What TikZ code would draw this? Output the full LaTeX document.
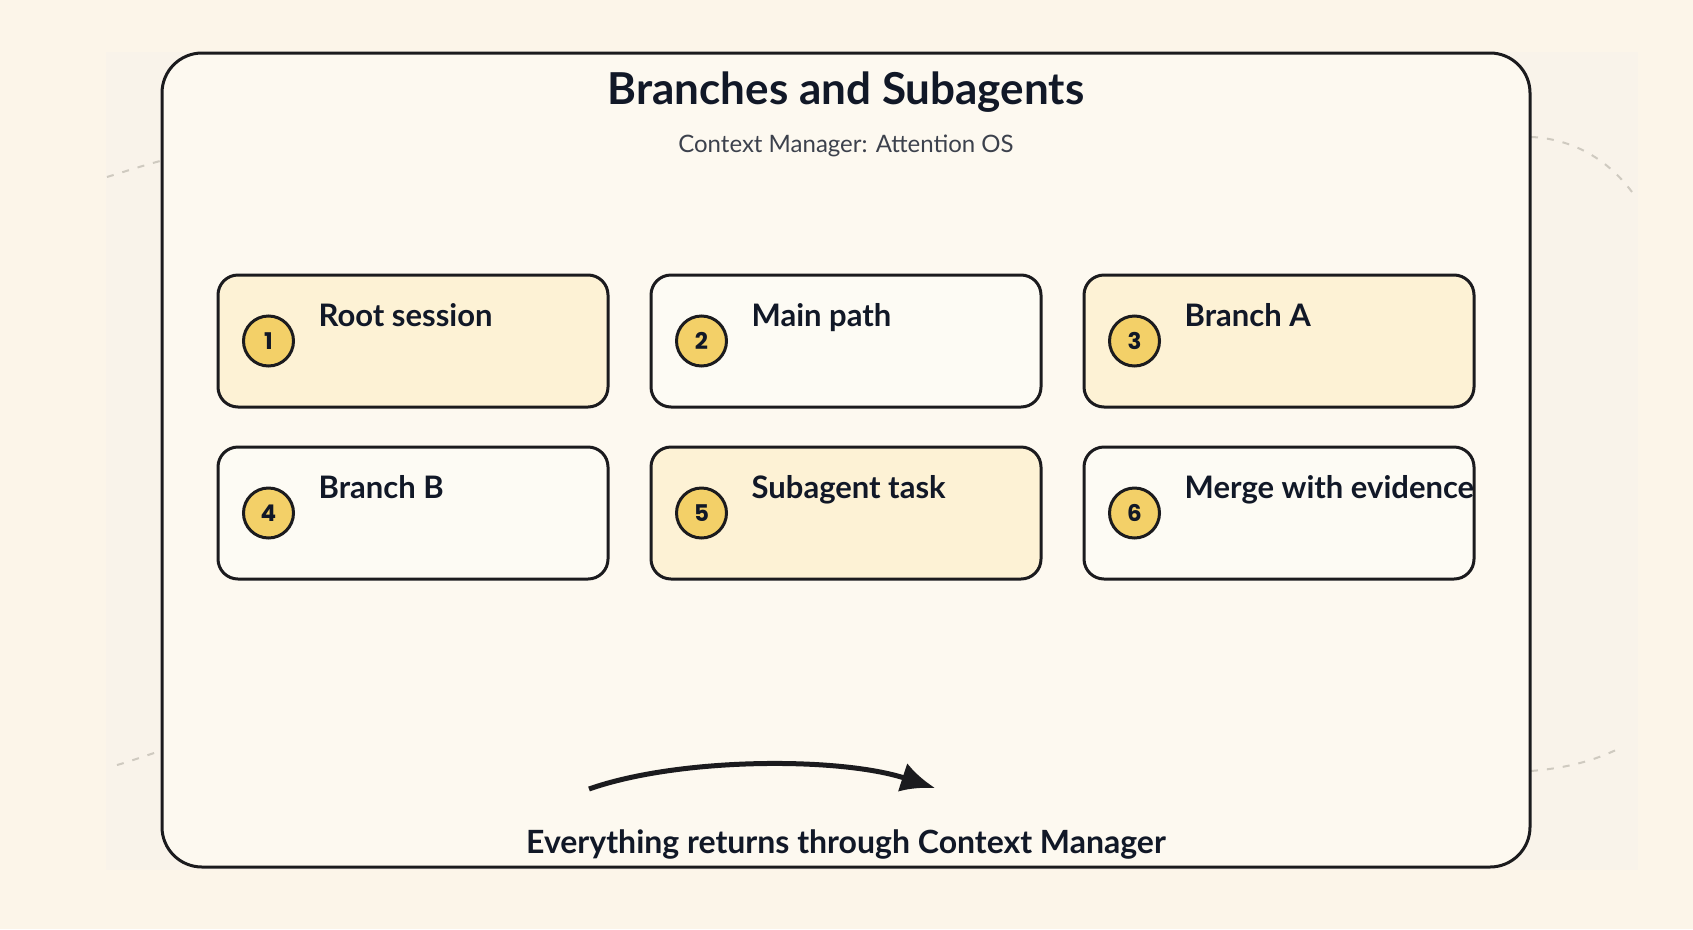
\documentclass[tikz,border=0pt]{standalone}
\usepackage{fontspec}
\setmainfont{Lato}
\newfontfamily\badgefont{Poppins}
\usetikzlibrary{arrows.meta}

\definecolor{pagebg}{HTML}{FCF5E9}
\definecolor{innerbg}{HTML}{F9F3EA}
\definecolor{framebg}{HTML}{FDF9F0}
\definecolor{ink}{HTML}{1B1B1E}
\definecolor{textink}{HTML}{111827}
\definecolor{subink}{HTML}{3C414C}
\definecolor{cardyellow}{HTML}{FDF2D5}
\definecolor{cardwhite}{HTML}{FDFBF4}
\definecolor{badge}{HTML}{F3D068}
\definecolor{dashgray}{HTML}{CFCAC0}

\tikzset{
  card/.style={draw=ink, line width=3pt, rounded corners=20pt,
    minimum width=390pt, minimum height=132pt, inner sep=0pt},
  num/.style={circle, draw=ink, line width=3pt, fill=badge,
    minimum size=50pt, inner sep=0pt, text=textink,
    font=\badgefont\fontsize{23}{23}\selectfont\bfseries},
  cardlabel/.style={anchor=base west, inner sep=0pt, text=textink,
    font=\fontsize{31}{31}\selectfont\bfseries},
  deco/.style={dashgray, line width=2pt, dash pattern=on 7pt off 9pt},
}

\begin{document}
\begin{tikzpicture}[x=1pt,y=-1pt]
            \useasboundingbox (0,0) rectangle (1693,929);
            \fill[pagebg] (0,0) rectangle (1693,929);
            \fill[innerbg] (106,52) rectangle (1638,870);

            % Faint dashed loop behind the frame
            \draw[deco] (107,177) .. controls (130,170) and (150,163) .. (180,156);
            \draw[deco] (1515,137) .. controls (1570,134) and (1608,160) .. (1632,192);
            \draw[deco] (117,765) .. controls (135,760) and (155,752) .. (180,745);
            \draw[deco] (1515,772) .. controls (1560,770) and (1592,762) .. (1620,748);

            % Frame
            \draw[ink, line width=3pt, fill=framebg, rounded corners=40pt]
                (162,53) rectangle (1530,867);

            % Titles
            \node[anchor=base, text=textink, font=\fontsize{44}{44}\selectfont\bfseries]
                (title) at (846,104) {Branches and Subagents};
            \node[anchor=base, text=subink, font=\fontsize{24}{24}\selectfont]
                (subtitle) at (846,152) {Context Manager: Attention OS};

            % Cards
            \node[card, fill=cardyellow] (c1) at (413,341) {};
            \node[card, fill=cardwhite] (c2) at (846,341) {};
            \node[card, fill=cardyellow] (c3) at (1279,341) {};
            \node[card, fill=cardwhite] (c4) at (413,513) {};
            \node[card, fill=cardyellow] (c5) at (846,513) {};
            \node[card, fill=cardwhite] (c6) at (1279,513) {};

            % Badges
            \node[num] (n1) at ([xshift=52pt]c1.west) {1};
            \node[num] (n2) at ([xshift=52pt]c2.west) {2};
            \node[num] (n3) at ([xshift=52pt]c3.west) {3};
            \node[num] (n4) at ([xshift=52pt]c4.west) {4};
            \node[num] (n5) at ([xshift=52pt]c5.west) {5};
            \node[num] (n6) at ([xshift=52pt]c6.west) {6};

            % Labels
            \node[cardlabel] (l1) at ([xshift=102pt,yshift=-53pt]c1.north west) {Root session};
            \node[cardlabel] (l2) at ([xshift=102pt,yshift=-53pt]c2.north west) {Main path};
            \node[cardlabel] (l3) at ([xshift=102pt,yshift=-53pt]c3.north west) {Branch A};
            \node[cardlabel] (l4) at ([xshift=102pt,yshift=-53pt]c4.north west) {Branch B};
            \node[cardlabel] (l5) at ([xshift=102pt,yshift=-53pt]c5.north west) {Subagent task};
            \node[cardlabel] (l6) at ([xshift=102pt,yshift=-53pt]c6.north west) {Merge with evidence};

            % Return arrow
            \coordinate (retS) at (589,789);
            \coordinate (retE) at (935,788);
            \draw[ink, line width=5pt, -{Latex[length=34pt,width=30pt]}]
                (retS) .. controls (680,757) and (840,757) .. (retE);
            \node[anchor=base, text=textink, font=\fontsize{32}{32}\selectfont\bfseries]
                (footer) at (846,853) {Everything returns through Context Manager};
\end{tikzpicture}
\end{document}
